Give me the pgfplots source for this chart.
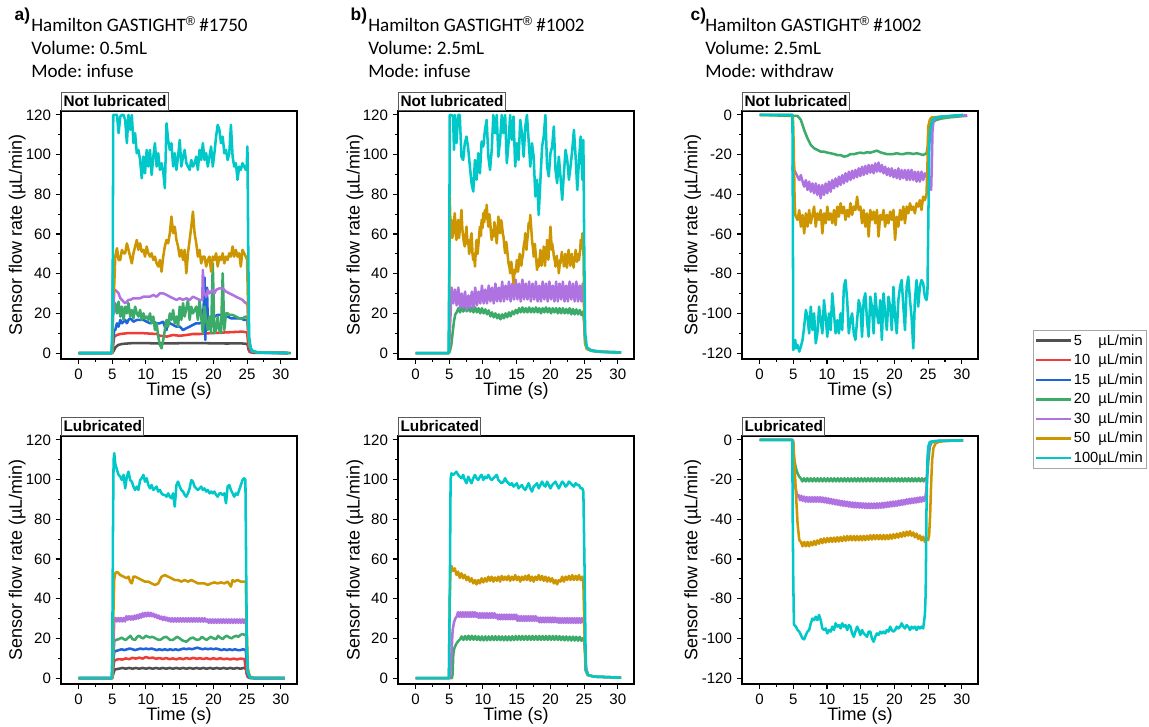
\documentclass[border=0pt]{standalone}
\usepackage{pgfplots}
\pgfplotsset{compat=1.18}
\usepackage{fontspec}
\usepackage{calc}
\setmainfont{Liberation Sans}
\newfontfamily\calfont{Carlito}
\frenchspacing

\definecolor{c5}{RGB}{80,80,80}
\definecolor{c10}{RGB}{238,60,55}
\definecolor{c15}{RGB}{30,100,220}
\definecolor{c20}{RGB}{60,170,105}
\definecolor{c30}{RGB}{175,115,225}
\definecolor{c50}{RGB}{205,150,0}
\definecolor{c100}{RGB}{0,200,200}

\newcommand{\lgtxt}[1]{\makebox[\widthof{100}][l]{#1}µL/min}
\newcommand{\reg}{\raisebox{0.32em}{\fontspec{Liberation Sans}\fontsize{9.5}{10}\selectfont ®}}

\pgfplotsset{
  panel/.style={
    scale only axis, width=177pt, height=186pt,
    xmin=-2.6, xmax=32.4,
    xtick={0,5,...,30}, minor x tick num=1, minor y tick num=1,
    axis line style={line width=0.8pt},
    every tick/.style={black, line width=0.8pt},
    major tick length=4pt, minor tick length=2.2pt,
    tick align=outside, tick pos=left,
    ticklabel style={font=\fontsize{11.3}{13}\selectfont},
    /pgf/number format/assume math mode=true,
    label style={font=\fontsize{13.5}{15}\selectfont},
    xlabel={Time (s)},
    xlabel style={at={(axis description cs:0.5,-0.13)}, anchor=center},
    ylabel={Sensor flow rate (µL/min)},
    every axis plot/.append style={line width=1.9pt, mark=none, line join=round},
  },
  pos/.style={ymin=-3, ymax=122, ytick={0,20,...,120}},
  neg/.style={ymin=-123, ymax=2, ytick={-120,-100,...,0}},
}
\tikzset{tag/.style={draw=black!65, line width=0.8pt, fill=white, anchor=south west,
  inner xsep=1.5pt, inner ysep=2.5pt, font=\bfseries\fontsize{11.5}{12}\selectfont}}

\begin{document}
\begin{tikzpicture}
\useasboundingbox (0,0) rectangle (861.75pt,545.25pt);

% ---------------- titles
\node[anchor=base west, font=\bfseries\fontsize{13}{14}\selectfont] at (7.5pt,530pt) {a)};
\node[anchor=base west, font=\bfseries\fontsize{13}{14}\selectfont] at (259.5pt,530pt) {b)};
\node[anchor=base west, font=\bfseries\fontsize{13}{14}\selectfont] at (514.5pt,530pt) {c)};
\begin{scope}[every node/.style={anchor=base west, inner sep=0pt, font=\calfont\fontsize{14.3}{16}\selectfont}]
\node at (23.25pt,521.4pt) {Hamilton GASTIGHT\reg{} \#1750};
\node at (23.25pt,504.1pt) {Volume: 0.5mL};
\node at (23.25pt,486.9pt) {Mode: infuse};
\node at (276pt,521.4pt) {Hamilton GASTIGHT\reg{} \#1002};
\node at (276pt,504.1pt) {Volume: 2.5mL};
\node at (276pt,486.9pt) {Mode: infuse};
\node at (528.75pt,521.4pt) {Hamilton GASTIGHT\reg{} \#1002};
\node at (528.75pt,504.1pt) {Volume: 2.5mL};
\node at (528.75pt,486.9pt) {Mode: withdraw};
\end{scope}

% ---------------- a) not lubricated
\begin{axis}[panel, pos, name=at, at={(45.75pt,276pt)}, anchor=south west,
  ylabel style={at={(axis description cs:-0.186,0.5)}, anchor=center},
  legend cell align=left,
  legend style={at={(axis description cs:4.119,0.117)}, anchor=north west,
    draw=black!35, line width=0.6pt, inner xsep=1pt, inner ysep=1.5pt, row sep=2.2pt,
    font=\fontsize{11}{12}\selectfont, nodes={inner sep=1.5pt}},
  legend image code/.code={\draw[#1, line width=1.8pt] (0pt,0pt) -- (26pt,0pt);}]
\addplot[c5] coordinates {(0,0)(5.0,0)(5.2,1.0)(5.5,3.0)(5.9,4.1)(6.5,4.6)(8,5.0)(10,5.0)(12,4.8)(14,4.9)(16,5.0)(18,5.0)(20,4.9)(22,4.8)(24,4.9)(25.05,4.6)(25.2,2)(25.4,0.5)(26,0.1)(31,0)};
\addplot[c10] coordinates {(0,0)(4.95,0)(5.1,3)(5.3,8.3)(5.7,9.1)(6.2,9.6)(7.2,10.0)(9.6,10.0)(11.6,9.6)(12.1,8.7)(13.1,8.3)(14.0,9.1)(15.0,8.7)(16.0,9.1)(17.0,9.6)(18.0,9.6)(19.4,10.0)(21.9,10.4)(24.3,10.8)(25.0,10.4)(25.15,5)(25.3,1)(25.8,0.3)(31,0)};
\addplot[c15] coordinates {(0,0)(4.95,0)(5.1,5)(5.3,11.6)(5.45,11.6)(5.70,15.0)(5.94,13.3)(6.19,16.7)(6.43,15.0)(6.68,15.8)(6.92,16.7)(7.17,15.0)(7.41,16.7)(7.66,17.5)(8.15,15.8)(8.64,16.7)(9.13,16.7)(9.62,16.7)(10.11,15.8)(10.60,15.0)(11.09,15.8)(11.58,15.0)(12.07,15.0)(12.56,15.8)(12.80,13.3)(13.05,11.6)(13.29,16.7)(13.54,15.0)(14.03,14.2)(14.52,13.3)(15.01,13.3)(15.50,11.6)(15.99,12.5)(16.48,13.3)(16.97,14.2)(17.46,15.0)(17.95,15.0)(18.44,15.8)(18.60,26.8)(18.70,38)(18.80,6.6)(18.93,25.1)(19.05,33)(19.17,16.7)(19.42,16.7)(19.66,18.4)(20.15,18.4)(20.64,19.2)(21.13,19.2)(21.62,18.4)(22.11,18.4)(22.60,17.5)(23.09,17.5)(23.58,17.5)(24.07,17.5)(24.56,16.7)(25.05,16.7)(25.2,8)(25.4,2)(25.8,0.5)(26.5,0.2)(31,0)};
\addplot[c20] coordinates {(0,0)(4.9,0)(5.0,5)(5.1,40)(5.2,20)(5.45,25.1)(5.70,20.0)(5.94,25.9)(6.19,18.4)(6.43,23.4)(6.68,16.7)(6.92,23.4)(7.17,20.0)(7.41,25.1)(7.66,18.4)(7.90,21.7)(8.15,17.5)(8.39,23.4)(8.64,20.0)(8.88,18.4)(9.13,21.7)(9.37,16.7)(9.62,20.0)(9.86,17.5)(10.11,18.4)(10.35,16.7)(10.60,20.0)(10.84,15.0)(11.09,18.4)(11.33,11.6)(11.58,15.0)(11.82,8.3)(12.07,4.1)(12.31,2.4)(12.56,6.6)(12.80,11.6)(13.05,16.7)(13.29,13.3)(13.54,20.0)(13.78,16.7)(14.03,21.7)(14.27,15.0)(14.52,18.4)(14.76,13.3)(15.01,23.4)(15.25,16.7)(15.50,25.1)(15.74,18.4)(15.99,22.6)(16.23,26.8)(16.48,16.7)(16.72,23.4)(16.97,20.0)(17.21,21.7)(17.46,23.4)(17.70,16.7)(17.95,26.8)(18.19,18.4)(18.44,10.0)(18.68,23.4)(18.93,16.7)(19.17,11.6)(19.42,18.4)(19.66,10.0)(19.91,45.2)(20.15,10.0)(20.40,11.6)(20.64,18.4)(20.89,11.6)(21.13,10.0)(21.38,40.2)(21.62,11.6)(21.87,20.0)(22.11,20.0)(22.36,19.2)(22.85,19.2)(23.34,18.4)(23.83,17.5)(24.32,17.5)(24.81,18.4)(25.05,18.0)(25.2,8)(25.4,3)(25.8,1)(26.5,0.4)(31.5,0)};
\addplot[c30] coordinates {(0,0)(4.95,0)(5.1,15)(5.3,31.8)(5.45,31.8)(5.70,31.0)(5.94,30.1)(6.19,27.6)(6.43,26.8)(6.68,25.9)(6.92,25.1)(7.17,25.9)(7.41,26.8)(7.66,26.8)(8.15,27.6)(8.64,27.6)(9.13,27.6)(9.62,28.4)(10.11,28.4)(10.60,28.4)(11.09,29.3)(11.58,28.4)(12.07,30.1)(12.56,30.1)(13.05,29.3)(13.54,28.4)(14.03,27.6)(14.52,26.8)(15.01,27.6)(15.50,26.8)(15.99,27.6)(16.48,26.8)(16.97,28.4)(17.46,27.6)(17.95,26.8)(18.35,26.8)(18.44,41.9)(18.55,30)(18.68,30.1)(18.93,28.4)(19.17,31.8)(19.42,30.1)(19.66,31.0)(19.91,31.8)(20.15,30.1)(20.40,31.8)(20.89,32.6)(21.38,32.6)(21.87,31.0)(22.36,30.1)(22.85,29.3)(23.34,28.4)(23.83,27.6)(24.32,26.8)(24.56,25.9)(24.81,25.1)(25.05,25.1)(25.2,10)(25.4,3)(25.8,0.8)(26.5,0.3)(31.0,0)};
\addplot[c50] coordinates {(0,0)(5.0,0)(5.15,47)(5.25,30)(5.45,48.6)(5.70,52.8)(5.94,46.9)(6.19,46.9)(6.43,52.0)(6.68,50.3)(6.92,50.3)(7.17,55.3)(7.41,52.0)(7.66,48.6)(7.90,45.2)(8.15,50.3)(8.39,53.7)(8.64,57.0)(8.88,52.0)(9.13,55.3)(9.37,51.1)(9.62,52.0)(9.86,48.6)(10.11,53.7)(10.35,50.3)(10.60,48.6)(10.84,50.3)(11.09,46.9)(11.33,48.6)(11.58,45.2)(11.82,43.6)(12.07,46.9)(12.31,41.0)(12.56,48.6)(12.80,53.7)(13.05,57.0)(13.29,55.3)(13.54,60.4)(13.78,68.8)(14.03,60.4)(14.27,63.7)(14.52,57.0)(14.76,53.7)(15.01,48.6)(15.25,52.0)(15.50,46.9)(15.74,52.0)(15.99,40.2)(16.23,50.3)(16.48,57.0)(16.72,63.7)(16.97,71.3)(17.21,60.4)(17.46,55.3)(17.70,48.6)(17.95,52.0)(18.19,45.2)(18.44,48.6)(18.68,48.6)(18.93,43.6)(19.17,46.9)(19.42,48.6)(19.66,41.0)(19.91,48.6)(20.15,46.9)(20.40,50.3)(20.64,43.6)(20.89,48.6)(21.13,46.9)(21.38,50.3)(21.62,45.2)(21.87,48.6)(22.11,46.9)(22.36,50.3)(22.60,48.6)(22.85,53.7)(23.09,48.6)(23.34,52.0)(23.58,48.6)(23.83,50.3)(24.07,43.6)(24.32,52.0)(24.56,50.3)(24.81,48.6)(25.0,47)(25.15,20)(25.3,5)(25.7,1)(26.5,0.3)(31.0,0)};
\addplot[c100] coordinates {(0,0)(4.9,0)(5.05,20)(5.15,120)(5.45,120)(5.7,120)(5.94,110.8)(6.19,119.2)(6.43,120)(6.68,120)(6.92,117.5)(7.17,105.8)(7.41,120)(7.66,112.5)(7.90,120)(8.15,105.8)(8.39,110.8)(8.64,100.7)(8.88,102.4)(9.13,97.3)(9.37,88.1)(9.62,99.0)(9.86,90.6)(10.11,102.4)(10.35,94.0)(10.60,102.4)(10.84,89.8)(11.09,99.0)(11.33,105.8)(11.58,94.0)(11.82,100.7)(12.07,92.3)(12.31,95.7)(12.56,91.5)(12.80,83.1)(13.05,115.8)(13.29,107.4)(13.54,102.4)(13.78,105.8)(14.03,94.0)(14.27,100.7)(14.52,92.3)(14.76,99.0)(15.01,107.4)(15.25,94.0)(15.50,99.0)(15.74,102.4)(15.99,95.7)(16.23,94.0)(16.48,92.3)(16.72,97.3)(16.97,94.0)(17.21,95.7)(17.46,99.0)(17.70,92.3)(17.95,102.4)(18.19,97.3)(18.44,105.8)(18.68,97.3)(18.93,100.7)(19.17,94.0)(19.42,99.0)(19.66,104.1)(19.91,94.0)(20.15,100.7)(20.40,109.1)(20.64,115.0)(20.89,112.5)(21.13,105.8)(21.38,109.1)(21.62,100.7)(21.87,102.4)(22.11,97.3)(22.36,100.7)(22.60,115.0)(22.85,99.0)(23.09,94.0)(23.34,95.7)(23.58,87.3)(23.83,94.0)(24.07,92.3)(24.32,95.7)(24.56,94.0)(24.81,92.3)(24.95,95.0)(25.05,104.1)(25.15,60)(25.3,8)(25.6,1.5)(26.5,0.3)(31.2,0)};
\legend{\lgtxt{5},\lgtxt{10},\lgtxt{15},\lgtxt{20},\lgtxt{30},\lgtxt{50},\lgtxt{100}}
\end{axis}
\node[tag] at (at.north west) {Not lubricated};

% ---------------- a) lubricated
\begin{axis}[panel, pos, name=ab, at={(45.75pt,32.25pt)}, anchor=south west,
  ylabel style={at={(axis description cs:-0.186,0.5)}, anchor=center}]
\addplot[c5] coordinates {(0,0)(5.0,0)(5.15,2)(5.35,4.3)(6,4.7)(6.5,5.1)(7,4.7)(7.5,5.1)(8,4.7)(8.5,5.1)(9,4.7)(9.5,5.1)(10,4.7)(10.5,5.1)(11,4.7)(11.5,5.1)(12,4.7)(12.5,5.1)(13,4.7)(13.5,5.1)(14,4.7)(14.5,5.1)(15,4.7)(15.5,5.1)(16,4.7)(16.5,5.1)(17,4.7)(17.5,5.1)(18,4.7)(18.5,5.1)(19,4.7)(19.5,5.1)(20,4.7)(20.5,5.1)(21,4.7)(21.5,5.1)(22,4.7)(22.5,5.1)(23,4.7)(23.5,5.1)(24,4.7)(24.5,5.1)(24.8,4.9)(24.95,2)(25.1,0.5)(25.4,0)(30.6,0)};
\addplot[c10] coordinates {(0,0)(5.0,0)(5.15,5)(5.3,8.7)(5.6,9.2)(6,9.6)(6.5,9.3)(7,9.9)(7.5,9.5)(8,10.2)(8.5,9.8)(9,10.3)(9.5,9.8)(10,10.6)(10.5,10.0)(11,10.3)(11.5,9.7)(12,10.1)(12.5,9.6)(13,10.1)(13.5,9.5)(14,9.9)(14.5,9.4)(15,10.0)(15.5,9.5)(16,10.1)(16.5,9.6)(17,10.2)(17.5,9.7)(18,10.0)(18.5,9.6)(19,10.0)(19.5,9.5)(20,10.0)(20.5,9.5)(21,10.0)(21.5,9.5)(22,9.8)(22.5,9.4)(23,9.8)(23.5,9.4)(24,9.8)(24.6,9.6)(24.75,6)(24.9,3)(25.1,1)(25.4,0.2)(26,0)(30.6,0)};
\addplot[c15] coordinates {(0,0)(5.0,0)(5.15,8)(5.3,13.3)(5.6,13.7)(6,14.1)(6.4,14.5)(6.8,14.1)(7.2,14.5)(7.6,14.9)(8,14.5)(8.4,14.1)(8.8,14.5)(9.2,14.9)(9.6,14.5)(10,14.9)(10.4,14.5)(10.8,14.9)(11.2,14.5)(11.6,14.1)(12,14.5)(12.4,14.1)(12.8,14.5)(13.2,14.1)(13.6,14.5)(14,14.1)(14.4,14.5)(14.8,14.1)(15.2,14.5)(15.6,14.9)(16,14.5)(16.4,14.9)(16.8,14.5)(17.2,14.9)(17.6,15.3)(18,14.9)(18.4,14.5)(18.8,14.9)(19.2,14.5)(19.6,14.9)(20,14.5)(20.4,14.9)(20.8,14.5)(21.2,14.1)(21.6,14.5)(22,14.1)(22.4,14.5)(22.8,14.1)(23.2,14.5)(23.6,14.1)(24,14.1)(24.4,14.5)(24.8,14.1)(24.95,8)(25.1,2)(25.4,0.3)(26,0)(30.6,0)};
\addplot[c20] coordinates {(0,0)(5.0,0)(5.15,10)(5.3,18.3)(5.5,19.2)(6.0,19.6)(6.4,20.4)(6.7,19.6)(7.0,19.2)(7.4,20.4)(7.7,21.3)(8.0,19.6)(8.4,19.2)(8.7,20.8)(9.0,21.3)(9.3,20.4)(9.6,20.0)(10.0,21.3)(10.3,20.8)(10.6,20.4)(10.9,20.8)(11.2,20.4)(11.6,19.6)(12.0,19.2)(12.3,19.6)(12.6,20.4)(13.0,20.8)(13.3,20.0)(13.6,19.2)(14.0,19.2)(14.3,20.0)(14.6,20.8)(15.0,20.0)(15.3,19.2)(15.6,18.7)(16.0,18.3)(16.3,19.2)(16.6,20.0)(17.0,20.4)(17.3,19.6)(17.6,19.2)(18.0,19.6)(18.3,20.8)(18.6,20.0)(19.0,19.2)(19.3,20.0)(19.6,20.8)(20.0,20.0)(20.4,19.6)(20.7,21.3)(21.0,20.4)(21.4,19.6)(21.7,20.8)(22.0,21.3)(22.4,20.4)(22.7,20.0)(23.0,20.8)(23.4,21.3)(23.7,20.8)(24.0,21.7)(24.3,22.2)(24.6,21.7)(24.85,22.2)(24.95,12)(25.1,3)(25.4,0.5)(26,0)(30.6,0)};
\addplot[c30] coordinates {(0,0)(5.0,0)(5.15,15)(5.3,28.5)(5.5,30.3)(5.7,28.5)(5.9,30.3)(6.1,28.5)(6.3,30.3)(6.5,28.5)(6.7,30.3)(6.9,28.5)(7.1,31.2)(7.3,29.4)(7.5,31.2)(7.7,29.4)(7.9,31.2)(8.1,29.4)(8.3,31.5)(8.5,29.7)(8.7,31.8)(8.9,30.0)(9.1,32.2)(9.3,30.4)(9.5,32.7)(9.7,30.9)(9.9,32.9)(10.1,31.1)(10.3,33.0)(10.5,31.2)(10.7,32.9)(10.9,31.1)(11.1,32.5)(11.3,30.7)(11.5,32.0)(11.7,30.2)(11.9,31.5)(12.1,29.7)(12.3,31.0)(12.5,29.2)(12.7,30.9)(12.9,29.1)(13.1,30.5)(13.3,28.7)(13.5,30.2)(13.7,28.4)(13.9,30.2)(14.1,28.4)(14.3,30.2)(14.5,28.4)(14.7,30.2)(14.9,28.4)(15.1,30.2)(15.3,28.4)(15.5,30.2)(15.7,28.4)(15.9,30.2)(16.1,28.4)(16.3,30.2)(16.5,28.4)(16.7,30.2)(16.9,28.4)(17.1,30.2)(17.3,28.4)(17.5,30.2)(17.7,28.4)(17.9,30.2)(18.1,28.4)(18.3,30.2)(18.5,28.4)(18.7,30.2)(18.9,28.4)(19.1,29.6)(19.3,27.8)(19.5,29.6)(19.7,27.8)(19.9,29.6)(20.1,27.8)(20.3,29.6)(20.5,27.8)(20.7,29.6)(20.9,27.8)(21.1,29.6)(21.3,27.8)(21.5,29.6)(21.7,27.8)(21.9,29.6)(22.1,27.8)(22.3,29.6)(22.5,27.8)(22.7,29.6)(22.9,27.8)(23.1,29.6)(23.3,27.8)(23.5,29.6)(23.7,27.8)(23.9,29.6)(24.1,27.8)(24.3,29.6)(24.5,27.8)(24.7,29.6)(24.85,28.7)(24.95,15)(25.1,3)(25.4,0.5)(26,0)(30.6,0)};
\addplot[c50] coordinates {(0,0)(5.0,0)(5.15,30)(5.3,50)(5.45,52.8)(5.70,53.6)(5.94,52.8)(6.19,51.9)(6.68,51.1)(7.17,50.3)(7.41,51.1)(7.66,48.6)(7.90,47.7)(8.15,51.1)(8.39,51.1)(8.88,50.3)(9.37,49.4)(9.86,48.6)(10.35,48.6)(10.84,47.7)(11.33,46.9)(11.82,47.7)(12.31,51.1)(12.80,51.9)(13.29,51.1)(13.78,50.3)(14.27,49.4)(14.76,49.4)(15.25,48.6)(15.74,49.4)(16.23,48.6)(16.72,49.4)(17.21,48.6)(17.70,47.7)(18.19,47.7)(18.68,47.7)(19.17,46.9)(19.66,47.7)(20.15,48.2)(20.64,47.7)(21.13,48.2)(21.62,47.7)(22.11,48.6)(22.60,46.1)(22.85,49.4)(23.09,48.6)(23.58,49.4)(24.07,48.6)(24.56,48.6)(24.8,48.6)(24.95,25)(25.1,5)(25.4,0.8)(26,0.1)(30.6,0)};
\addplot[c100] coordinates {(0,0)(4.9,0)(5.0,10)(5.12,80)(5.2,110)(5.3,113.3)(5.45,108)(5.70,104.9)(5.94,102.4)(6.19,101.5)(6.43,99.8)(6.68,102.4)(6.92,95.6)(7.17,101.5)(7.41,104.0)(7.66,99.8)(7.90,99.0)(8.15,96.5)(8.39,94.8)(8.64,96.5)(8.88,94.8)(9.13,99.8)(9.37,100.7)(9.62,102.4)(9.86,99.0)(10.11,100.7)(10.35,97.3)(10.60,95.6)(10.84,97.3)(11.09,94.8)(11.33,95.6)(11.58,96.5)(11.82,94.0)(12.07,94.8)(12.31,93.1)(12.56,92.3)(12.80,92.3)(13.05,91.4)(13.29,93.1)(13.54,91.4)(13.78,90.6)(14.03,93.1)(14.27,86.4)(14.52,97.3)(14.76,99.0)(15.01,96.5)(15.25,94.8)(15.50,94.0)(15.74,92.3)(15.99,91.4)(16.23,93.1)(16.48,95.6)(16.72,99.8)(16.97,99.0)(17.21,96.5)(17.46,95.6)(17.70,94.8)(17.95,95.6)(18.19,96.5)(18.44,94.8)(18.68,95.6)(18.93,94.0)(19.17,94.8)(19.42,93.1)(19.66,94.0)(19.91,93.1)(20.15,94.0)(20.40,92.3)(20.64,91.4)(20.89,93.1)(21.13,93.1)(21.38,92.3)(21.62,93.1)(21.87,88.1)(22.11,96.5)(22.36,97.3)(22.60,94.8)(22.85,93.1)(23.09,91.4)(23.34,93.1)(23.58,92.3)(23.83,94.8)(24.07,97.3)(24.32,99.8)(24.56,100.7)(24.75,99.8)(24.85,60)(24.95,20)(25.1,3)(25.4,0.5)(26,0)(30.6,0)};
\end{axis}
\node[tag] at (ab.north west) {Lubricated};

% ---------------- b) not lubricated
\begin{axis}[panel, pos, name=bt, at={(298.5pt,276pt)}, anchor=south west,
  ylabel style={at={(axis description cs:-0.182,0.5)}, anchor=center}]
\addplot[c20] coordinates {(0,0)(4.95,0)(5.1,1)(5.3,4)(5.5,10)(5.7,16)(5.9,19.5)(6.1,20.5)(6.35,22.6)(6.6,20.5)(6.85,23.0)(7.1,20.9)(7.35,23.4)(7.6,21.0)(7.85,23.4)(8.1,20.9)(8.35,23.0)(8.6,20.5)(8.85,23.0)(9.1,20.5)(9.35,22.6)(9.6,20.0)(9.85,22.6)(10.1,20.0)(10.35,22.0)(10.6,19.5)(10.85,21.5)(11.1,18.5)(11.35,20.5)(11.6,18.0)(11.85,20.0)(12.1,17.5)(12.35,19.5)(12.6,17.0)(12.85,19.5)(13.1,17.5)(13.35,20.0)(13.6,18.0)(13.85,20.5)(14.1,18.5)(14.35,21.0)(14.6,19.5)(14.85,21.7)(15.1,20.0)(15.35,22.6)(15.6,20.5)(15.85,23.0)(16.1,20.5)(16.35,22.6)(16.6,20.5)(16.85,23.0)(17.1,20.5)(17.35,22.6)(17.6,20.5)(17.85,23.0)(18.1,20.5)(18.35,22.6)(18.6,20.0)(18.85,22.6)(19.1,20.5)(19.35,23.0)(19.6,20.5)(19.85,22.6)(20.1,20.0)(20.35,22.6)(20.6,20.5)(20.85,22.6)(21.1,20.0)(21.35,22.6)(21.6,20.0)(21.85,22.6)(22.1,20.0)(22.35,22.2)(22.6,20.0)(22.85,22.6)(23.1,19.5)(23.35,22.2)(23.6,19.5)(23.85,22.0)(24.1,19.5)(24.35,21.7)(24.6,19.2)(24.85,21.0)(25.0,15)(25.15,5)(25.4,2.5)(26,1.5)(27,0.9)(28,0.6)(30.5,0.3)};
\addplot[c30] coordinates {(0,0)(4.95,0)(5.2,20)(5.35,33)(5.6,25)(5.85,32)(6.1,24)(6.35,33)(6.6,23)(6.85,30)(7.1,23)(7.35,31)(7.6,22)(7.85,29)(8.1,23)(8.35,31)(8.6,23)(8.85,33)(9.1,24)(9.35,31)(9.6,25)(9.85,34)(10.1,25)(10.35,32)(10.6,25)(10.85,34)(11.1,26)(11.35,33)(11.6,25)(11.85,35)(12.1,26)(12.35,33)(12.6,26)(12.85,36)(13.1,26)(13.35,34)(13.6,27)(13.85,36)(14.1,26)(14.35,35)(14.6,27)(14.85,37)(15.1,27)(15.35,35)(15.6,26)(15.85,37)(16.1,27)(16.35,35)(16.6,27)(16.85,36)(17.1,26)(17.35,35)(17.6,27)(17.85,36)(18.1,26)(18.35,34)(18.6,26)(18.85,36)(19.1,27)(19.35,35)(19.6,26)(19.85,36)(20.1,27)(20.35,34)(20.6,26)(20.85,36)(21.1,26)(21.35,35)(21.6,27)(21.85,36)(22.1,26)(22.35,34)(22.6,26)(22.85,36)(23.1,27)(23.35,35)(23.6,26)(23.85,36)(24.1,26)(24.35,34)(24.6,26)(24.8,35)(24.95,28)(25.1,10)(25.3,3)(26,1.2)(27,0.7)(30.5,0.3)};
\addplot[c50] coordinates {(0,0)(4.95,0)(5.07,78.9)(5.2,62)(5.32,67.1)(5.45,58)(5.57,60.4)(5.7,66)(5.82,70.5)(5.95,61)(6.07,57.0)(6.2,63)(6.32,67.1)(6.45,58)(6.56,62.1)(6.7,66)(6.81,72.1)(6.95,62)(7.06,58.7)(7.2,55)(7.31,53.7)(7.45,60)(7.56,63.7)(7.7,55)(7.81,57.0)(7.95,50)(8.06,52.0)(8.2,58)(8.31,60.4)(8.45,50)(8.56,46.9)(8.7,50)(8.81,43.6)(8.95,52)(9.05,57.0)(9.2,50)(9.30,53.7)(9.45,60)(9.55,63.7)(9.7,59)(9.80,67.1)(9.95,63)(10.05,70.5)(10.2,66)(10.30,72.1)(10.45,68)(10.55,74.7)(10.7,67)(10.80,63.7)(10.95,70)(11.05,67.1)(11.2,60)(11.30,57.0)(11.45,62)(11.54,58.7)(11.7,66)(11.79,63.7)(11.95,58)(12.04,55.3)(12.2,63)(12.29,68.8)(12.45,62)(12.54,60.4)(12.7,67)(12.79,65.4)(12.95,60)(13.04,58.7)(13.2,53)(13.29,50.3)(13.45,56)(13.54,53.7)(13.7,48)(13.79,45.2)(13.95,43)(14.03,40.2)(14.2,46)(14.28,43.6)(14.45,38)(14.53,35.2)(14.7,42)(14.78,40.2)(14.95,44)(15.03,46.9)(15.2,41)(15.28,43.6)(15.45,50)(15.53,48.6)(15.7,44)(15.78,46.9)(15.95,50)(16.03,53.7)(16.2,57)(16.28,60.4)(16.45,52)(16.52,55.3)(16.7,61)(16.77,65.4)(16.95,66)(17.02,69.6)(17.2,61)(17.27,57.0)(17.45,52)(17.52,48.6)(17.7,55)(17.77,52.0)(17.95,45)(18.02,41.9)(18.2,47)(18.27,43.6)(18.45,49)(18.52,52.0)(18.7,44)(18.77,46.9)(18.95,50)(19.01,53.7)(19.2,44)(19.26,46.9)(19.45,53)(19.51,57.0)(19.7,47)(19.76,50.3)(19.95,60)(20.01,63.7)(20.2,52)(20.26,55.3)(20.45,51)(20.51,48.6)(20.7,46)(20.76,43.6)(20.95,49)(21.00,46.9)(21.2,43)(21.25,40.2)(21.45,47)(21.50,45.2)(21.7,51)(21.75,48.6)(21.95,46)(22.00,43.6)(22.2,50)(22.25,48.6)(22.45,43)(22.50,45.2)(22.7,52)(22.75,50.3)(22.95,44)(22.99,46.9)(23.2,50)(23.24,48.6)(23.45,43)(23.49,45.2)(23.7,49)(23.74,52.0)(23.95,46)(23.99,48.6)(24.2,50)(24.24,46.9)(24.45,53)(24.49,57.0)(24.7,56)(24.74,60.4)(24.85,52)(24.89,55.3)(25.0,25)(25.15,5)(25.4,2)(26,1.2)(27,0.7)(30.5,0.3)};
\addplot[c100] coordinates {(0,0)(4.9,0)(5.0,40)(5.07,120)(5.32,120)(5.57,119.2)(5.70,102.4)(5.82,120)(6.07,105.8)(6.32,120)(6.56,120)(6.81,99.0)(7.06,97.3)(7.31,105.8)(7.56,109.1)(7.81,103.2)(8.06,94.0)(8.31,85.6)(8.56,81.4)(8.81,97.3)(9.05,87.3)(9.30,100.7)(9.55,90.6)(9.80,106.6)(10.05,104.1)(10.30,112.5)(10.55,117.5)(10.80,99.0)(11.05,92.3)(11.30,102.4)(11.54,120)(11.79,110.8)(12.04,120)(12.29,99.0)(12.54,107.4)(12.79,120)(13.04,110.8)(13.29,120)(13.54,95.7)(13.79,105.8)(14.03,120)(14.28,107.4)(14.53,119.2)(14.78,94.0)(15.03,105.8)(15.28,97.3)(15.53,117.5)(15.78,110.8)(16.03,99.0)(16.28,114.2)(16.52,120)(16.77,107.4)(17.02,94.0)(17.27,105.8)(17.52,99.0)(17.77,78.9)(18.02,87.3)(18.27,69.6)(18.52,87.3)(18.77,104.1)(19.01,109.1)(19.26,120)(19.51,94.0)(19.76,89.0)(20.01,100.7)(20.26,104.1)(20.51,114.2)(20.76,92.3)(21.00,85.6)(21.25,99.0)(21.50,88.9)(21.75,77.2)(22.00,90.6)(22.25,102.4)(22.50,97.3)(22.75,87.3)(22.99,94.0)(23.24,102.4)(23.49,112.5)(23.74,99.0)(23.99,82.2)(24.24,97.3)(24.49,109.1)(24.74,87.3)(24.89,107.4)(25.0,60)(25.15,10)(25.4,3)(26,1.2)(27,0.8)(28,0.5)(30.5,0.3)};
\end{axis}
\node[tag] at (bt.north west) {Not lubricated};

% ---------------- b) lubricated
\begin{axis}[panel, pos, name=bb, at={(298.5pt,32.25pt)}, anchor=south west,
  ylabel style={at={(axis description cs:-0.182,0.5)}, anchor=center}]
\addplot[c20] coordinates {(0,0)(5.4,0)(5.5,2)(5.6,12)(5.75,15)(6.0,17)(6.3,18.5)(6.6,19.5)(6.85,21.0)(7.1,19.2)(7.35,21.2)(7.6,19.3)(7.85,21.3)(8.1,19.3)(8.35,21.3)(8.6,19.3)(8.85,21.2)(9.1,19.2)(9.35,21.0)(9.6,19.0)(9.85,21.0)(10.1,19.0)(10.35,21.0)(10.6,19.0)(10.85,21.0)(11.1,19.1)(11.35,21.1)(11.6,19.1)(11.85,21.1)(12.1,19.1)(12.35,21.1)(12.6,19.1)(12.85,21.0)(13.1,19.0)(13.35,21.0)(13.6,19.0)(13.85,21.0)(14.1,19.0)(14.35,21.1)(14.6,19.1)(14.85,21.2)(15.1,19.2)(15.35,21.2)(15.6,19.2)(15.85,21.2)(16.1,19.2)(16.35,21.2)(16.6,19.2)(16.85,21.2)(17.1,19.2)(17.35,21.2)(17.6,19.2)(17.85,21.2)(18.1,19.2)(18.35,21.2)(18.6,19.2)(18.85,21.2)(19.1,19.2)(19.35,21.2)(19.6,19.2)(19.85,21.2)(20.1,19.2)(20.35,21.2)(20.6,19.2)(20.85,21.2)(21.1,19.2)(21.35,21.1)(21.6,19.1)(21.85,21.0)(22.1,19.0)(22.35,21.0)(22.6,19.0)(22.85,20.9)(23.1,18.9)(23.35,20.9)(23.6,18.9)(23.85,20.8)(24.1,18.8)(24.35,20.8)(24.6,18.8)(24.85,20.2)(25.0,19.5)(25.15,12)(25.3,4)(25.6,1.5)(26.5,0.7)(30.5,0.2)};
\addplot[c30] coordinates {(0,0)(5.1,0)(5.3,10)(5.5,24)(5.7,28)(5.9,30)(6.1,31)(6.3,33.2)(6.48,30.8)(6.66,33.2)(6.84,30.8)(7.02,33.2)(7.2,30.8)(7.38,33.2)(7.56,30.8)(7.74,33.2)(7.92,30.8)(8.1,33.2)(8.28,30.8)(8.46,33.2)(8.64,30.8)(8.82,33.2)(9.0,30.8)(9.18,32.7)(9.36,30.3)(9.54,32.7)(9.72,30.3)(9.9,32.7)(10.08,30.3)(10.26,32.7)(10.44,30.3)(10.62,32.7)(10.8,30.3)(10.98,32.7)(11.16,30.3)(11.34,32.7)(11.52,30.3)(11.7,32.7)(11.88,30.3)(12.06,32.0)(12.24,29.6)(12.42,32.0)(12.6,29.6)(12.78,32.0)(12.96,29.6)(13.14,32.0)(13.32,29.6)(13.5,32.0)(13.68,29.6)(13.86,32.0)(14.04,29.6)(14.22,32.0)(14.4,29.6)(14.58,32.0)(14.76,29.6)(14.94,32.0)(15.12,28.8)(15.3,31.2)(15.48,28.8)(15.66,31.2)(15.84,28.8)(16.02,31.2)(16.2,28.8)(16.38,31.2)(16.56,28.8)(16.74,31.2)(16.92,28.8)(17.1,31.2)(17.28,28.8)(17.46,31.2)(17.64,28.8)(17.82,31.2)(18.0,28.8)(18.18,30.5)(18.36,28.1)(18.54,30.5)(18.72,28.1)(18.9,30.5)(19.08,28.1)(19.26,30.5)(19.44,28.1)(19.62,30.5)(19.8,28.1)(19.98,30.5)(20.16,28.1)(20.34,30.5)(20.52,28.1)(20.7,30.5)(20.88,28.1)(21.06,30.2)(21.24,27.8)(21.42,30.2)(21.6,27.8)(21.78,30.2)(21.96,27.8)(22.14,30.2)(22.32,27.8)(22.5,30.2)(22.68,27.8)(22.86,30.2)(23.04,27.8)(23.22,30.2)(23.4,27.8)(23.58,30.2)(23.76,27.8)(23.94,30.2)(24.12,27.8)(24.3,30.2)(24.48,27.8)(24.66,30.2)(24.84,28.2)(25.0,28)(25.15,15)(25.3,5)(25.6,1.5)(26.5,0.7)(30.5,0.2)};
\addplot[c50] coordinates {(0,0)(4.95,0)(5.07,40)(5.2,55)(5.32,56.5)(5.57,54.0)(5.82,55.3)(6.07,52.0)(6.32,53.6)(6.56,50.5)(6.81,52.8)(7.06,50.3)(7.31,52.0)(7.56,49.4)(7.81,51.1)(8.06,48.6)(8.31,50.3)(8.56,47.7)(8.81,49.4)(9.05,47.2)(9.30,49.4)(9.55,47.7)(9.80,50.3)(10.05,48.2)(10.30,50.3)(10.55,48.6)(10.80,51.1)(11.05,49.0)(11.30,51.1)(11.54,48.6)(11.79,50.7)(12.04,49.0)(12.29,51.1)(12.54,48.6)(12.79,51.5)(13.04,49.4)(13.29,51.1)(13.54,49.4)(13.79,51.5)(14.03,49.0)(14.28,51.1)(14.53,49.4)(14.78,51.9)(15.03,49.4)(15.28,51.1)(15.53,48.6)(15.78,51.1)(16.03,49.4)(16.28,51.5)(16.52,49.4)(16.77,51.9)(17.02,49.0)(17.27,51.1)(17.52,48.6)(17.77,51.1)(18.02,49.4)(18.27,51.9)(18.52,49.4)(18.77,51.5)(19.01,49.0)(19.26,51.1)(19.51,48.6)(19.76,50.7)(20.01,48.6)(20.26,50.3)(20.51,47.7)(20.76,49.4)(21.00,47.2)(21.25,49.4)(21.50,48.6)(21.75,51.1)(22.00,48.6)(22.25,51.1)(22.50,49.4)(22.75,51.5)(22.99,49.4)(23.24,51.9)(23.49,49.4)(23.74,51.5)(23.99,49.4)(24.24,51.9)(24.49,49.4)(24.74,51.1)(24.89,47.7)(25.05,25)(25.2,4)(25.5,1.5)(26.5,0.7)(30.5,0.2)};
\addplot[c100] coordinates {(0,0)(4.95,0)(5.1,50)(5.2,100)(5.32,103.2)(5.57,102.4)(5.82,103.2)(6.07,104.0)(6.32,102.4)(6.56,101.5)(6.81,100.7)(7.06,102.4)(7.31,99.8)(7.56,98.2)(7.81,101.5)(8.06,99.8)(8.31,98.2)(8.56,100.7)(8.81,102.4)(9.05,100.7)(9.30,99.8)(9.55,101.5)(9.80,102.4)(10.05,99.8)(10.30,101.5)(10.55,100.7)(10.80,102.4)(11.05,100.7)(11.30,99.8)(11.54,100.7)(11.79,101.5)(12.04,102.4)(12.29,99.8)(12.54,99.0)(12.79,98.2)(13.04,99.0)(13.29,100.7)(13.54,99.0)(13.79,98.2)(14.03,97.3)(14.28,98.2)(14.53,96.5)(14.78,97.3)(15.03,98.2)(15.28,95.6)(15.53,96.5)(15.78,97.3)(16.03,95.6)(16.28,94.8)(16.52,96.5)(16.77,98.2)(17.02,95.6)(17.27,94.0)(17.52,96.5)(17.77,97.3)(18.02,98.2)(18.27,95.6)(18.52,97.3)(18.77,99.0)(19.01,97.3)(19.26,96.5)(19.51,99.0)(19.76,97.3)(20.01,95.6)(20.26,97.3)(20.51,98.2)(20.76,99.0)(21.00,97.3)(21.25,95.6)(21.50,97.3)(21.75,99.0)(22.00,98.2)(22.25,96.5)(22.50,97.3)(22.75,99.0)(22.99,98.2)(23.24,97.3)(23.49,96.5)(23.74,98.2)(23.99,97.3)(24.24,97.3)(24.49,95.6)(24.74,95.6)(24.89,94.0)(25.09,50)(25.25,4)(25.6,1.5)(26.5,0.7)(30.5,0.2)};
\end{axis}
\node[tag] at (bb.north west) {Lubricated};

% ---------------- c) not lubricated
\begin{axis}[panel, neg, name=ct, at={(556.5pt,276pt)}, anchor=south west,
  ylabel style={at={(axis description cs:-0.209,0.5)}, anchor=center}]
\addplot[c20] coordinates {(0,0)(5.15,-0.5)(5.64,-0.5)(6.13,-2.5)(6.62,-7.6)(7.11,-11.8)(7.60,-15.1)(8.09,-16.8)(8.58,-17.6)(9.07,-18.5)(9.56,-18.5)(10.05,-19.0)(10.55,-19.3)(11.04,-19.7)(11.53,-20.2)(12.02,-20.2)(12.51,-21.0)(13.0,-20.7)(13.49,-19.7)(13.98,-19.8)(14.47,-19.3)(14.96,-19.0)(15.45,-19.3)(15.94,-18.8)(16.43,-19.0)(16.92,-18.5)(17.41,-18.0)(17.90,-18.8)(18.39,-19.3)(18.88,-19.7)(19.37,-19.8)(19.86,-19.7)(20.35,-19.3)(20.84,-19.7)(21.33,-19.7)(21.82,-19.3)(22.31,-19.3)(22.80,-19.7)(23.29,-19.3)(23.78,-19.7)(24.27,-20.2)(24.52,-19.7)(24.76,-19.5)(24.95,-16)(25.1,-9)(25.25,-5.9)(25.5,-4)(25.74,-3.5)(26.23,-2.5)(27,-1.8)(28.2,-1.2)(29.5,-0.8)(30.8,-0.4)};
\addplot[c30] coordinates {(4.85,-26)(4.91,-28)(5.0,-22.7)(5.15,-27.7)(5.40,-29.4)(5.64,-31.1)(5.89,-32.8)(6.13,-30.3)(6.38,-33.6)(6.62,-36.1)(6.87,-32.8)(7.11,-37.8)(7.36,-33.6)(7.60,-38.7)(7.85,-34.5)(8.09,-39.5)(8.34,-34.5)(8.58,-40.3)(8.83,-35.3)(9.07,-42.0)(9.32,-35.3)(9.56,-40.3)(9.81,-34.5)(10.05,-39.5)(10.30,-33.6)(10.55,-38.7)(10.79,-32.8)(11.04,-37.0)(11.28,-32.0)(11.53,-36.1)(11.77,-31.1)(12.02,-35.3)(12.26,-30.3)(12.51,-34.5)(12.75,-29.4)(13.0,-33.6)(13.24,-28.6)(13.49,-32.8)(13.73,-28.1)(13.98,-32.0)(14.22,-27.7)(14.47,-31.4)(14.71,-26.9)(14.96,-30.8)(15.20,-26.1)(15.45,-30.3)(15.69,-25.7)(15.94,-29.7)(16.18,-25.2)(16.43,-29.1)(16.67,-25.2)(16.92,-29.4)(17.16,-24.4)(17.41,-28.6)(17.65,-24.0)(17.90,-28.6)(18.14,-25.2)(18.39,-29.4)(18.63,-26.1)(18.88,-30.3)(19.12,-26.9)(19.37,-30.8)(19.61,-26.9)(19.86,-31.4)(20.10,-27.7)(20.35,-31.9)(20.59,-26.9)(20.84,-32.4)(21.08,-27.7)(21.33,-31.9)(21.57,-27.7)(21.82,-32.8)(22.06,-27.7)(22.31,-32.8)(22.55,-27.7)(22.80,-32.8)(23.04,-28.6)(23.29,-33.6)(23.53,-28.6)(23.78,-33.6)(24.02,-28.6)(24.27,-32.8)(24.52,-29.4)(24.76,-31)(25.01,-33)(25.25,-35.3)(25.45,-37.8)(25.55,-25)(25.65,-8)(25.8,-3)(26.2,-1.5)(27,-1.0)(28.5,-0.6)(30.8,-0.2)};
\addplot[c50] coordinates {(0,0)(4.85,0)(4.95,-2)(5.0,-5.9)(5.08,-17.6)(5.2,-42.9)(5.30,-50.4)(5.40,-51.3)(5.64,-52.9)(5.89,-48.0)(6.13,-56.3)(6.38,-50.4)(6.62,-59.7)(6.87,-49.6)(7.11,-56.3)(7.36,-47.9)(7.60,-54.6)(7.85,-50.4)(8.09,-46.2)(8.34,-56.3)(8.58,-49.6)(8.83,-52.9)(9.07,-47.9)(9.32,-59.7)(9.56,-49.6)(9.81,-54.6)(10.05,-46.2)(10.30,-52.9)(10.55,-49.6)(10.79,-54.6)(11.04,-47.9)(11.28,-55.5)(11.53,-46.2)(11.77,-51.3)(12.02,-44.5)(12.26,-49.6)(12.51,-46.2)(12.75,-52.9)(13.0,-47.9)(13.24,-51.3)(13.49,-44.5)(13.73,-50.4)(13.98,-46.2)(14.22,-47.9)(14.47,-41.2)(14.71,-47.9)(14.96,-46.2)(15.20,-54.6)(15.45,-47.9)(15.69,-56.3)(15.94,-49.6)(16.18,-61.3)(16.43,-47.9)(16.67,-52.9)(16.92,-48.7)(17.16,-54.6)(17.41,-47.9)(17.65,-61.3)(17.90,-50.4)(18.14,-52.9)(18.39,-47.9)(18.63,-56.3)(18.88,-50.4)(19.12,-54.6)(19.37,-48.7)(19.61,-52.9)(19.86,-47.9)(20.10,-63.0)(20.35,-51.3)(20.59,-56.3)(20.84,-47.9)(21.08,-52.9)(21.33,-46.2)(21.57,-54.6)(21.82,-46.2)(22.06,-49.6)(22.31,-44.5)(22.55,-47.9)(22.80,-46.2)(23.04,-49.6)(23.29,-44.5)(23.53,-46.2)(23.78,-42.9)(24.02,-47.9)(24.27,-41.2)(24.52,-42.9)(24.76,-40)(24.9,-26)(25.01,-5.9)(25.25,-2.5)(25.5,-1.3)(26.5,-1.0)(28.5,-0.5)(30.2,0)};
\addplot[c100] coordinates {(0,0)(4.88,0)(4.95,-60)(5.0,-118.5)(5.15,-116.8)(5.30,-113.4)(5.40,-117.6)(5.64,-115.9)(5.89,-119.3)(6.13,-116.8)(6.38,-113.4)(6.62,-106.7)(6.87,-98.3)(7.11,-101.7)(7.36,-110.1)(7.60,-96.6)(7.85,-108.4)(8.09,-100.0)(8.34,-115.1)(8.58,-110.1)(8.83,-96.6)(9.07,-103.4)(9.32,-110.1)(9.56,-93.3)(9.81,-101.7)(10.05,-111.8)(10.30,-100.0)(10.55,-108.4)(10.79,-89.9)(11.04,-100.0)(11.28,-110.1)(11.53,-103.4)(11.77,-110.1)(12.02,-100.0)(12.26,-108.4)(12.51,-86.6)(12.75,-83.2)(13.0,-93.3)(13.24,-110.1)(13.49,-103.4)(13.73,-100.0)(13.98,-110.1)(14.22,-113.4)(14.47,-103.4)(14.71,-93.3)(14.96,-96.6)(15.20,-111.8)(15.45,-93.3)(15.69,-89.9)(15.94,-103.4)(16.18,-111.8)(16.43,-91.6)(16.67,-96.6)(16.92,-110.1)(17.16,-89.9)(17.41,-100.0)(17.65,-105.0)(17.90,-93.3)(18.14,-113.4)(18.39,-89.9)(18.63,-100.0)(18.88,-108.4)(19.12,-91.6)(19.37,-96.6)(19.61,-108.4)(19.86,-86.6)(20.10,-101.7)(20.35,-110.1)(20.59,-93.3)(20.84,-86.6)(21.08,-83.2)(21.33,-96.6)(21.57,-108.4)(21.82,-86.6)(22.06,-81.5)(22.31,-93.3)(22.55,-101.7)(22.80,-117.6)(23.04,-93.3)(23.29,-83.2)(23.53,-96.6)(23.78,-86.6)(24.02,-83.2)(24.27,-84.9)(24.52,-91.6)(24.76,-93.3)(24.9,-89.9)(25.01,-60)(25.15,-20)(25.25,-9.2)(25.6,-2.5)(26.2,-1.2)(27,-0.8)(30.2,0)};
\end{axis}
\node[tag] at (ct.north west) {Not lubricated};

% ---------------- c) lubricated
\begin{axis}[panel, neg, name=cb, at={(556.5pt,32.25pt)}, anchor=south west,
  ylabel style={at={(axis description cs:-0.209,0.5)}, anchor=center}]
\addplot[c20] coordinates {(0,0)(4.91,0)(5.05,-6)(5.15,-10.1)(5.40,-14.3)(5.64,-16.8)(5.89,-18.5)(6.1,-19.3)(6.35,-20.9)(6.6,-19.3)(6.85,-20.9)(7.1,-19.3)(7.35,-20.9)(7.6,-19.3)(7.85,-20.9)(8.1,-19.3)(8.35,-20.9)(8.6,-19.3)(8.85,-20.9)(9.1,-19.3)(9.35,-20.9)(9.6,-19.3)(9.85,-20.9)(10.1,-19.3)(10.35,-20.9)(10.6,-19.3)(10.85,-20.9)(11.1,-19.3)(11.35,-20.9)(11.6,-19.3)(11.85,-20.9)(12.1,-19.3)(12.35,-20.9)(12.6,-19.3)(12.85,-20.9)(13.1,-19.3)(13.35,-20.9)(13.6,-19.3)(13.85,-20.9)(14.1,-19.3)(14.35,-20.9)(14.6,-19.3)(14.85,-20.9)(15.1,-19.3)(15.35,-20.9)(15.6,-19.3)(15.85,-20.9)(16.1,-19.3)(16.35,-20.9)(16.6,-19.3)(16.85,-20.9)(17.1,-19.3)(17.35,-20.9)(17.6,-19.3)(17.85,-20.9)(18.1,-19.3)(18.35,-20.9)(18.6,-19.3)(18.85,-20.9)(19.1,-19.3)(19.35,-20.9)(19.6,-19.3)(19.85,-20.9)(20.1,-19.3)(20.35,-20.9)(20.6,-19.3)(20.85,-20.9)(21.1,-19.3)(21.35,-20.9)(21.6,-19.3)(21.85,-20.9)(22.1,-19.3)(22.35,-20.9)(22.6,-19.3)(22.85,-20.9)(23.1,-19.3)(23.35,-20.9)(23.6,-19.3)(23.85,-20.9)(24.1,-19.3)(24.35,-20.9)(24.6,-19.3)(24.8,-19.8)(24.9,-17)(25.05,-10)(25.25,-3.4)(25.5,-1.3)(26,-0.8)(27,-0.5)(30.2,-0.2)};
\addplot[c30] coordinates {(0,0)(4.91,0)(5.0,-1)(5.1,-12)(5.25,-22)(5.4,-25.2)(5.6,-28.6)(5.8,-27.8)(6.0,-30.4)(6.2,-28.1)(6.4,-30.7)(6.6,-28.5)(6.8,-31.1)(7.0,-28.8)(7.2,-31.2)(7.4,-28.8)(7.6,-31.2)(7.8,-28.8)(8.0,-31.2)(8.2,-28.8)(8.4,-31.2)(8.6,-28.8)(8.8,-31.2)(9.0,-28.8)(9.2,-31.3)(9.4,-29.0)(9.6,-31.5)(9.8,-29.2)(10.0,-31.7)(10.2,-29.4)(10.4,-32.0)(10.6,-29.7)(10.8,-32.2)(11.0,-30.0)(11.2,-32.5)(11.4,-30.2)(11.6,-32.7)(11.8,-30.5)(12.0,-33.0)(12.2,-30.7)(12.4,-33.2)(12.6,-30.9)(12.8,-33.4)(13.0,-31.1)(13.2,-33.6)(13.4,-31.3)(13.6,-33.8)(13.8,-31.5)(14.0,-34.0)(14.2,-31.6)(14.4,-34.0)(14.6,-31.7)(14.8,-34.1)(15.0,-31.8)(15.2,-34.2)(15.4,-31.9)(15.6,-34.3)(15.8,-32.0)(16.0,-34.4)(16.2,-32.0)(16.4,-34.4)(16.6,-32.0)(16.8,-34.4)(17.0,-32.0)(17.2,-34.4)(17.4,-31.9)(17.6,-34.3)(17.8,-31.9)(18.0,-34.2)(18.2,-31.7)(18.4,-34.1)(18.6,-31.6)(18.8,-33.9)(19.0,-31.4)(19.2,-33.7)(19.4,-31.2)(19.6,-33.5)(19.8,-31.0)(20.0,-33.4)(20.2,-30.9)(20.4,-33.2)(20.6,-30.6)(20.8,-32.9)(21.0,-30.4)(21.2,-32.7)(21.4,-30.2)(21.6,-32.5)(21.8,-29.9)(22.0,-32.2)(22.2,-29.7)(22.4,-32.0)(22.6,-29.5)(22.8,-31.8)(23.0,-29.3)(23.2,-31.6)(23.4,-29.1)(23.6,-31.4)(23.8,-28.9)(24.0,-31.2)(24.2,-28.8)(24.4,-30.8)(24.6,-28.6)(24.75,-25)(24.9,-12)(25.05,-5)(25.3,-1.5)(25.6,-0.7)(26.5,-0.4)(30.2,-0.2)};
\addplot[c50] coordinates {(0,0)(4.91,0)(5.0,-1)(5.15,-10.1)(5.40,-26.9)(5.64,-42.0)(5.89,-50.4)(6.13,-51.4)(6.38,-53.6)(6.62,-51.4)(6.87,-53.6)(7.11,-51.4)(7.36,-53.6)(7.60,-51.4)(7.85,-53.1)(8.09,-50.9)(8.34,-52.9)(8.58,-50.6)(8.83,-52.3)(9.07,-49.9)(9.32,-52.0)(9.56,-49.6)(9.81,-51.7)(10.05,-49.4)(10.30,-51.5)(10.55,-49.3)(10.79,-51.4)(11.04,-49.2)(11.28,-51.3)(11.53,-49.0)(11.77,-51.2)(12.02,-48.9)(12.26,-51.0)(12.51,-48.6)(12.75,-50.8)(13.0,-48.4)(13.24,-50.6)(13.49,-48.4)(13.73,-50.6)(13.98,-48.4)(14.22,-50.6)(14.47,-48.4)(14.71,-50.6)(14.96,-48.4)(15.20,-50.6)(15.45,-48.3)(15.69,-50.5)(15.94,-48.2)(16.18,-50.3)(16.43,-48.0)(16.67,-50.2)(16.92,-47.9)(17.16,-50.1)(17.41,-47.9)(17.65,-50.1)(17.90,-47.9)(18.14,-50.1)(18.39,-47.9)(18.63,-50.1)(18.88,-47.9)(19.12,-50.0)(19.37,-47.7)(19.61,-49.8)(19.86,-47.5)(20.10,-49.5)(20.35,-47.2)(20.59,-49.2)(20.84,-46.9)(21.08,-48.9)(21.33,-46.5)(21.57,-48.6)(21.82,-46.2)(22.06,-48.2)(22.31,-45.9)(22.55,-48.3)(22.80,-46.6)(23.04,-49.1)(23.29,-47.2)(23.53,-49.9)(23.78,-48.1)(24.02,-50.6)(24.27,-48.7)(24.52,-51.4)(24.76,-49.6)(25.0,-50.5)(25.15,-48)(25.3,-38)(25.45,-22)(25.6,-10)(25.8,-4)(26.1,-1.8)(26.6,-0.9)(27.5,-0.5)(30.2,-0.2)};
\addplot[c100] coordinates {(0,0)(4.86,0)(4.91,-35)(5.0,-70)(5.10,-92.4)(5.15,-93.3)(5.40,-94.1)(5.64,-95.8)(5.89,-96.6)(6.13,-98.3)(6.38,-100.0)(6.62,-100.5)(6.87,-98.3)(7.11,-96.6)(7.36,-95.8)(7.60,-92.4)(7.85,-90.0)(8.09,-90.8)(8.34,-89.1)(8.58,-90.8)(8.83,-88.2)(9.07,-90.8)(9.32,-95.0)(9.56,-95.8)(9.81,-95.0)(10.05,-97.5)(10.30,-95.8)(10.55,-96.6)(10.79,-94.1)(11.04,-95.8)(11.28,-92.4)(11.53,-94.1)(11.77,-93.3)(12.02,-95.0)(12.26,-92.4)(12.51,-94.1)(12.75,-93.3)(13.0,-95.8)(13.24,-93.3)(13.49,-94.1)(13.73,-97.5)(13.98,-99.2)(14.22,-96.6)(14.47,-94.1)(14.71,-95.8)(14.96,-98.3)(15.20,-95.8)(15.45,-97.5)(15.69,-98.3)(15.94,-99.2)(16.18,-96.6)(16.43,-96.6)(16.67,-100.0)(16.92,-101.7)(17.16,-99.2)(17.41,-97.5)(17.65,-98.3)(17.90,-96.6)(18.14,-97.5)(18.39,-96.6)(18.63,-97.5)(18.88,-95.8)(19.12,-96.6)(19.37,-94.1)(19.61,-95.8)(19.86,-96.6)(20.10,-95.8)(20.35,-94.1)(20.59,-95.0)(20.84,-94.1)(21.08,-92.4)(21.33,-94.1)(21.57,-95.0)(21.82,-93.3)(22.06,-94.1)(22.31,-95.8)(22.55,-94.1)(22.80,-95.0)(23.04,-94.1)(23.29,-95.8)(23.53,-94.1)(23.78,-95.0)(24.02,-94.1)(24.27,-95.0)(24.52,-88.2)(24.64,-77.3)(24.76,-35.3)(24.9,-10.1)(25.01,-3.4)(25.25,-1.0)(25.74,-0.7)(26.5,-0.5)(30.2,-0.2)};
\end{axis}
\node[tag] at (cb.north west) {Lubricated};

\end{tikzpicture}
\end{document}
